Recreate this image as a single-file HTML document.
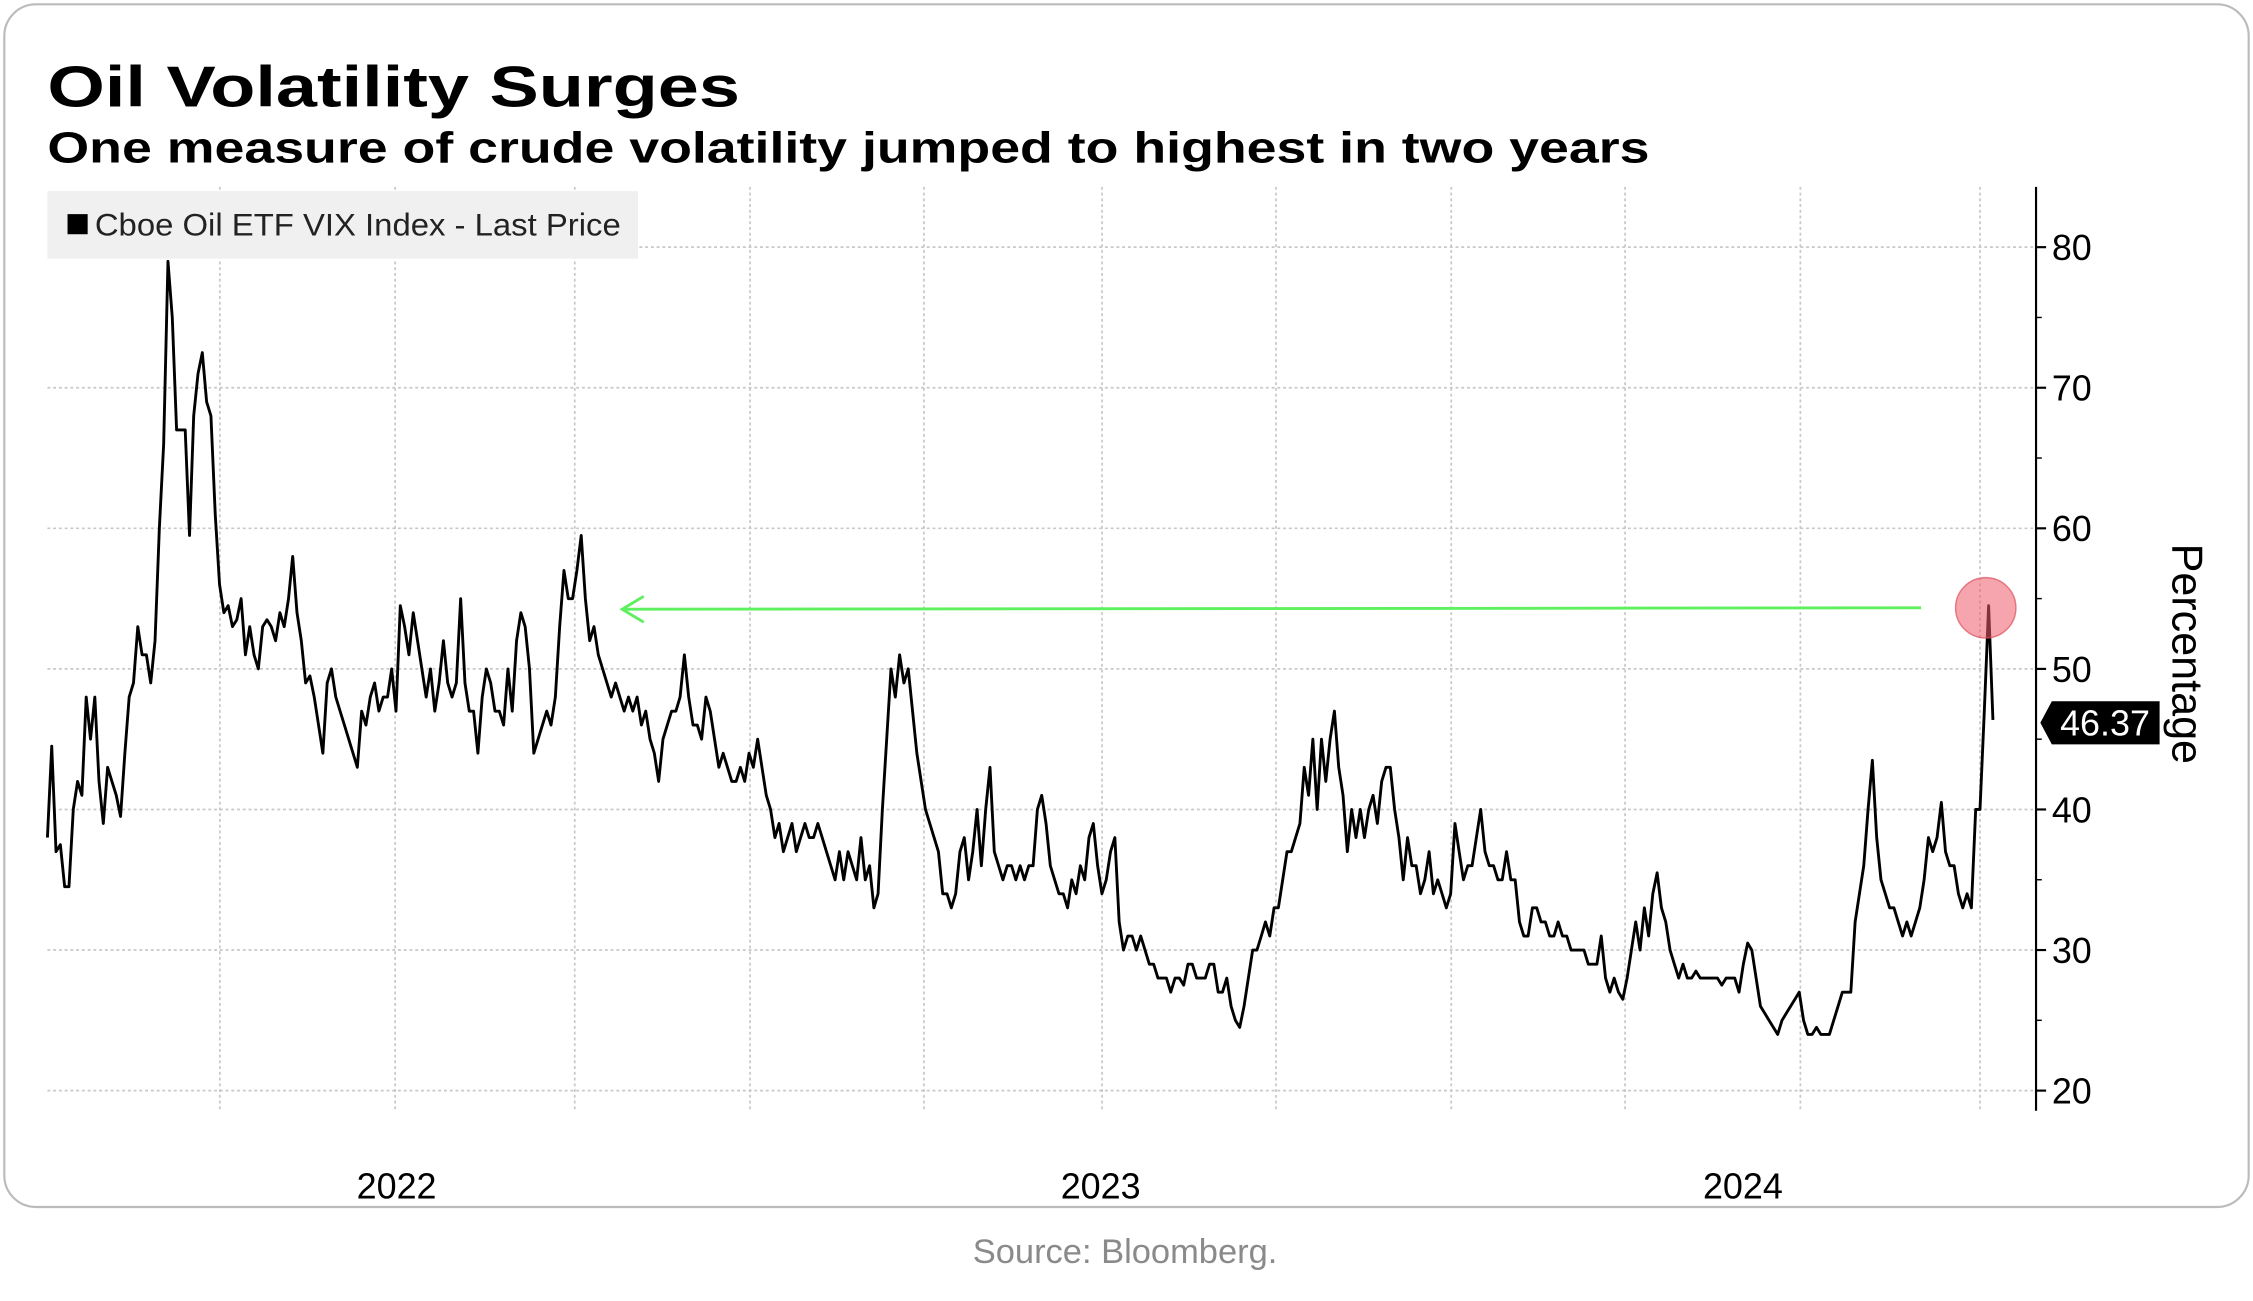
<!DOCTYPE html>
<html><head><meta charset="utf-8"><style>
html,body{margin:0;padding:0;background:#fff;}
svg{display:block;font-family:"Liberation Sans",sans-serif;}
</style></head><body>
<svg id="chart" width="2253" height="1301" viewBox="0 0 1568 905.4" xmlns="http://www.w3.org/2000/svg">
<rect x="3" y="3" width="1562" height="837" rx="22" fill="#fff" stroke="#bbb" stroke-width="1.5"/>
<text x="33" y="74" font-size="40" font-weight="bold" textLength="482" lengthAdjust="spacingAndGlyphs">Oil Volatility Surges</text>
<text x="33" y="113" font-size="30" font-weight="bold" textLength="1115" lengthAdjust="spacingAndGlyphs">One measure of crude volatility jumped to highest in two years</text>
<g id="grid"></g>
<rect x="33" y="133" width="411" height="47" fill="#f0f0f0"/>
<rect x="47" y="149" width="14" height="14" fill="#000"/>
<text x="66" y="164" font-size="22" fill="#222" textLength="366" lengthAdjust="spacingAndGlyphs">Cboe Oil ETF VIX Index - Last Price</text>
<g id="axes"></g>
<g id="series"></g>
<line x1="1337" y1="423" x2="433" y2="424" stroke="#5ef05e" stroke-width="2"/>
<polyline points="448,415 433,424 448,433" fill="none" stroke="#5ef05e" stroke-width="2"/>
<circle cx="1382" cy="423" r="21" fill="rgba(238,90,105,0.55)" stroke="rgba(220,80,90,0.7)" stroke-width="1"/>
<g>
<polygon points="1420,503 1428,488 1503,488 1503,518 1428,518" fill="#000"/>
<text x="1465" y="512" font-size="25" fill="#fff" text-anchor="middle">46.37</text>
</g>
<text transform="translate(1512,455) rotate(90)" font-size="30" text-anchor="middle">Percentage</text>
<text x="783" y="879" font-size="24" fill="#8a8a8a" text-anchor="middle">Source: Bloomberg.</text>
</svg>
<script>
const yTicks = [20,30,40,50,60,70,80];
const xGridPositions = [153,275,400,522,643,767,888,1010,1131,1253,1378];
const yearLabels = ["2022","2023","2024"];
const yearLabelX = [276,766,1213];
const values = [38,44.5,37,37.5,34.5,34.5,40,42,41,48,45,48,42,39,43,42,41,39.5,44,48,49,53,51,51,49,52,60,66,79,75,67,67,67,59.5,68,71,72.5,69,68,61,56,54,54.5,53,53.5,55,51,53,51,50,53,53.5,53,52,54,53,55,58,54,52,49,49.5,48,46,44,49,50,48,47,46,45,44,43,47,46,48,49,47,48,48,50,47,54.5,53,51,54,52,50,48,50,47,49,52,49,48,49,55,49,47,47,44,48,50,49,47,47,46,50,47,52,54,53,50,44,45,46,47,46,48,53,57,55,55,57,59.5,55,52,53,51,50,49,48,49,48,47,48,47,48,46,47,45,44,42,45,46,47,47,48,51,48,46,46,45,48,47,45,43,44,43,42,42,43,42,44,43,45,43,41,40,38,39,37,38,39,37,38,39,38,38,39,38,37,36,35,37,35,37,36,35,38,35,36,33,34,40,45,50,48,51,49,50,47,44,42,40,39,38,37,34,34,33,34,37,38,35,37,40,36,40,43,37,36,35,36,36,35,36,35,36,36,40,41,39,36,35,34,34,33,35,34,36,35,38,39,36,34,35,37,38,32,30,31,31,30,31,30,29,29,28,28,28,27,28,28,27.5,29,29,28,28,28,29,29,27,27,28,26,25,24.5,26,28,30,30,31,32,31,33,33,35,37,37,38,39,43,41,45,40,45,42,45,47,43,41,37,40,38,40,38,40,41,39,42,43,43,40,38,35,38,36,36,34,35,37,34,35,34,33,34,39,37,35,36,36,38,40,37,36,36,35,35,37,35,35,32,31,31,33,33,32,32,31,31,32,31,31,30,30,30,30,29,29,29,31,28,27,28,27,26.5,28,30,32,30,33,31,34,35.5,33,32,30,29,28,29,28,28,28.5,28,28,28,28,28,27.5,28,28,28,27,29,30.5,30,28,26,25.5,25,24.5,24,25,25.5,26,26.5,27,25,24,24,24.5,24,24,24,25,26,27,27,27,32,34,36,40,43.5,38,35,34,33,33,32,31,32,31,32,33,35,38,37,38,40.5,37,36,36,34,33,34,33,40,40,47,54.5,46.37];
const NS="http://www.w3.org/2000/svg";
const X0=33, X1=1387, PL=33, PR=1417;
function yScale(v){return 759-(v-20)*(759-172)/60;}
function xScale(i){return X0+i*(X1-X0)/(values.length-1);}
function mk(tag,attrs,parent){const e=document.createElementNS(NS,tag);for(const k in attrs)e.setAttribute(k,attrs[k]);parent.appendChild(e);return e;}
const grid=document.getElementById('grid'), axes=document.getElementById('axes'), series=document.getElementById('series');
yTicks.forEach(t=>{
  const y=yScale(t);
  const g=mk('line',{x1:PL,x2:PR,y1:y,y2:y,stroke:'#c8c8c8','stroke-width':1.2,'stroke-dasharray':'2,2'},grid);
  
  
  const tk=mk('line',{x1:PR,x2:PR+7,y1:y,y2:y,stroke:'#000','stroke-width':1.5},axes);
  
  
  const lb=mk('text',{x:PR+11,y:y+9,'font-size':25},axes);
  lb.textContent=t;
  
  
  if(t<80){const m=mk('line',{x1:PR,x2:PR+4,y1:yScale(t+5),y2:yScale(t+5),stroke:'#000','stroke-width':1},axes);
  
  }
});
xGridPositions.forEach(x=>{
  const g=mk('line',{x1:x,x2:x,y1:130,y2:773,stroke:'#c8c8c8','stroke-width':1.2,'stroke-dasharray':'2,2'},grid);
  
  
});
const ax=mk('line',{x1:PR,x2:PR,y1:130,y2:773,stroke:'#000','stroke-width':1.5},axes);


yearLabels.forEach((l,i)=>{
  const t=mk('text',{x:yearLabelX[i],y:834,'font-size':25,'text-anchor':'middle'},axes);
  t.textContent=l;
  
  
});
const pts=values.map((v,i)=>xScale(i).toFixed(1)+','+yScale(v).toFixed(1)).join(' ');
const line=mk('polyline',{points:pts,fill:'none',stroke:'#000','stroke-width':2,'stroke-linejoin':'round'},series);


</script>
</body></html>
